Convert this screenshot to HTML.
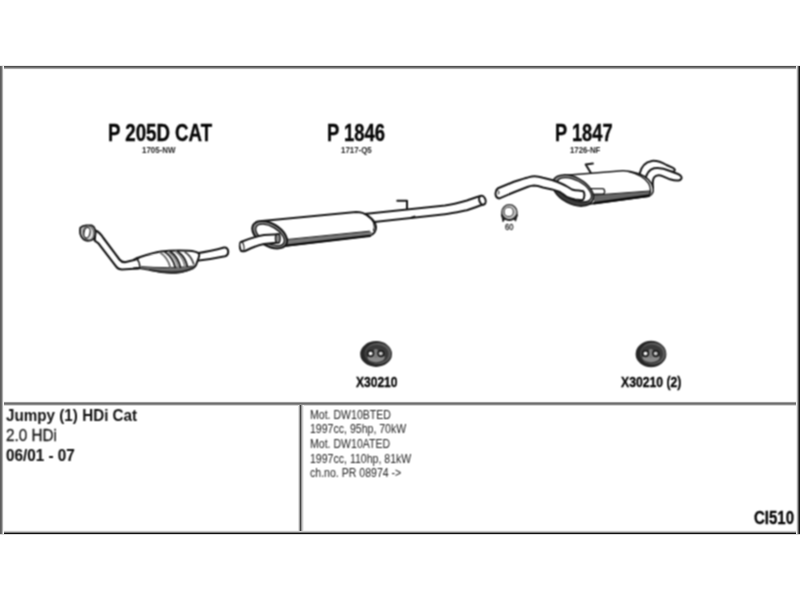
<!DOCTYPE html>
<html><head><meta charset="utf-8"><style>
html,body{margin:0;padding:0;background:#fff;}
body{width:800px;height:600px;position:relative;overflow:hidden;font-family:"Liberation Sans",sans-serif;color:#141414;}
.l{position:absolute;background:#333;}
.t{position:absolute;white-space:nowrap;line-height:1;transform-origin:0 0;}
.b{font-weight:bold;color:#050505;-webkit-text-stroke:0.35px #050505;}
.s{-webkit-text-stroke:0;color:#222;}
svg{position:absolute;left:0;top:0;}
#w{position:absolute;left:0;top:0;width:800px;height:600px;background:#fff;filter:url(#soft) grayscale(1);}
</style></head><body><svg width="0" height="0" style="position:absolute"><filter id="soft" x="0" y="0" width="100%" height="100%" color-interpolation-filters="sRGB"><feConvolveMatrix order="3" kernelMatrix="1 2 1 2 4 2 1 2 1" divisor="16" edgeMode="duplicate"/></filter></svg><div id="w">
<!-- labels -->
<div class="t b" style="left:107.6px;top:122px;font-size:23.6px;transform:scaleX(0.791)">P 205D CAT</div>
<div class="t b s" style="left:142.4px;top:144.9px;font-size:9.6px;transform:scaleX(0.825)">1705-NW</div>
<div class="t b" style="left:326.7px;top:122px;font-size:23.6px;transform:scaleX(0.781)">P 1846</div>
<div class="t b s" style="left:341.4px;top:144.9px;font-size:9.6px;transform:scaleX(0.821)">1717-Q5</div>
<div class="t b" style="left:555.2px;top:122px;font-size:23.6px;transform:scaleX(0.774)">P 1847</div>
<div class="t b s" style="left:570px;top:144.9px;font-size:9.6px;transform:scaleX(0.814)">1726-NF</div>
<div class="t b" style="left:355.7px;top:375.2px;font-size:14.8px;transform:scaleX(0.813)">X30210</div>
<div class="t b" style="left:620.6px;top:375px;font-size:14.8px;transform:scaleX(0.824)">X30210 (2)</div>

<div class="t b" style="left:6.3px;top:406.8px;font-size:17.3px;transform:scaleX(0.881);-webkit-text-stroke:0;color:#111">Jumpy (1) HDi Cat</div>
<div class="t" style="left:5.6px;top:427px;font-size:17.3px;transform:scaleX(0.884);color:#1a1a1a;-webkit-text-stroke:0.3px #1a1a1a">2.0 HDi</div>
<div class="t b" style="left:5.6px;top:446.6px;font-size:17.3px;transform:scaleX(0.883);-webkit-text-stroke:0.15px #111;color:#111">06/01 - 07</div>

<div class="t" style="left:310px;top:407.6px;font-size:12.2px;transform:scaleX(0.866);color:#222;line-height:14.7px">Mot. DW10BTED<br>1997cc, 95hp, 70kW<br>Mot. DW10ATED<br>1997cc, 110hp, 81kW<br>ch.no. PR 08974 -&gt;</div>

<div class="t b" style="left:753.5px;top:508.1px;font-size:19.2px;transform:scaleX(0.782)">CI510</div>

<div class="t" style="left:505px;top:222.7px;font-size:8.6px;transform:scaleX(0.88);color:#222;-webkit-text-stroke:0.3px #222">60</div>
<!-- drawing -->
<svg width="800" height="600" viewBox="0 0 800 600" fill="none" stroke="#141414" stroke-width="2.1" stroke-linecap="round" stroke-linejoin="round">
<!-- ===== P 205D CAT ===== -->
<g id="cat">
 <!-- front pipe -->
 <path d="M95.5,230.5 C99.5,232 101.5,235 103.4,238 L119.5,259.5 C121.5,262 123.5,262.5 126,262 L138,259 L138,268.5 L122,269.5 C119,269.5 117.5,268.5 116.2,266.7 L98.8,243.8 C97.5,242.5 96,241.5 94.7,240.6 Z" fill="#fff"/>
 <!-- flange -->
 <path d="M80.3,227.6 C82,226 84,225.4 86.2,225.3 L91.7,225.4 C93.5,226 94.6,227.5 95.1,229.5 C95.6,231.5 95.6,233.5 95.3,235 C95,237 94.5,238.3 93.2,239.4 C91.5,240.5 89.8,240.9 88,240.9 C86.3,240.8 84.8,240.3 83.4,239.3 C81.8,238 80.6,236 80.1,233.6 C79.8,231.3 79.8,229.3 80.3,227.6 Z" fill="#b8b8b8" stroke-width="1.7"/>
 <ellipse cx="88.6" cy="233" rx="5.2" ry="7" transform="rotate(-8 88.6 233)" fill="#dedede" stroke-width="1" stroke="#555"/>
 <ellipse cx="87" cy="232.7" rx="3" ry="5.3" transform="rotate(12 87 232.7)" fill="#fff" stroke-width="1.1"/>
 <!-- outlet pipe -->
 <path d="M196,253.5 C206,252 214,250.5 224,247.6 C226.5,247 228.2,249 228.2,251.5 C228.2,254 227,255.8 225,256.3 C217,258 209,259.5 197,260.8 Z" fill="#fff"/>
 <!-- converter body -->
 <path d="M136.4,258.2 C145,255.5 152,253 160.9,251.6 C168,250.6 176,250.2 188.9,250.7 C194,251 197,252 198.8,253.4 C199.6,254.6 199.2,256.5 198.4,258.5 L196.2,264.7 C195.5,266.5 194.5,267.5 193.2,268.2 C188,270.5 184,271.8 180.1,272.2 C175,272.8 171,272.8 167,272.6 C162,272.3 158,271.5 153.9,270.5 L140.7,268.2 L136.4,268 Z" fill="#fff" stroke="none"/>
 <path d="M136.4,258.2 C145,255.5 152,253 160.9,251.6 C168,250.6 176,250.2 188.9,250.7 C194,251 197,252 198.8,253.4 C199.6,254.6 199.2,256.5 198.4,258.5 L196.2,264.7 C195.5,266.5 194.5,267.5 193.2,268.2 C188,270.5 184,271.8 180.1,272.2 C175,272.8 171,272.8 167,272.6 C162,272.3 158,271.5 153.9,270.5 L140.7,268.2 L136.4,268" fill="none" stroke-width="2"/>
 <path d="M141.5,266.8 C158,268.2 176,268.2 194.5,266.2 L193.2,268.2 C188,270.5 184,271.8 180.1,272.2 C175,272.8 171,272.8 167,272.6 C162,272.3 158,271.5 153.9,270.5 L140.7,268.2 Z" fill="#6e6e6e" stroke="none"/>
 <path d="M150,270 C160,272 172,273 182,271.6 C187,270.8 190,269.5 193,268" stroke-width="2.2" stroke="#2a2a2a"/>
 <path d="M141.5,266.6 C158,268 176,268 194.5,266" stroke-width="0.9"/>
 <path d="M136.9,258.8 C138.8,261 139.8,263.5 139.8,267.2" stroke-width="1.4"/>
 <path d="M134,259.4 L138.5,258.3 M134,268.3 L139,268.2" stroke-width="2"/>
 <!-- stripes -->
 <g stroke-width="1.7">
  <path d="M160,252.6 C164.5,255.5 168.5,260.5 170.2,267.2" stroke="#6a6a6a" stroke-width="1.8"/>
  <path d="M165.2,252.3 C170,255.5 173.6,260.5 175.2,267.3" stroke="#222" stroke-width="1.9"/>
  <path d="M168.6,252 C173.4,255.2 176.6,260.5 178.2,267.2" stroke="#8a8a8a" stroke-width="2"/>
  <path d="M170.6,251.8 C175.6,255.2 178.8,260.5 180.4,267.1"/>
  <path d="M175.8,251.6 C180.6,255 183.6,259.8 185,266.2" stroke="#8a8a8a" stroke-width="2"/>
  <path d="M178,251.6 C182.8,255 185.8,259.8 187.2,265.8"/>
  <path d="M185.2,252.2 C189.4,255 192,259 193.6,263.8" stroke="#444" stroke-width="1.8"/>
 </g>
</g>

<!-- ===== P 1846 ===== -->
<g id="mid">
 <!-- outlet pipe -->
 <path d="M362,214.2 L445,205.5 C452,204.6 460,202.5 466.9,200.5 C471,199.2 476,197.2 480.5,196 L483,204.4 C476,207 471,208.9 466.9,210.2 C460,211.6 452,213.4 445,214.25 L372,222.3 Z" fill="#fff"/>
 <ellipse cx="482.4" cy="200.2" rx="3.1" ry="4.6" transform="rotate(-18 482.4 200.2)" fill="#fff" stroke-width="2"/>
 <path d="M397.25,200.75 L407,200.75 L407,209" stroke-width="2"/>
 <path d="M411.5,217.8 L414.5,216.6" stroke-width="2"/>
 <!-- body -->
 <path d="M262,221 L356,212 C361,212 365,213.5 367.5,215.6 C372,219 376,222 376,227 C376,231 374,234 370,235.6 L282,246 Z" fill="#fff" stroke-width="2"/>
 <path d="M284,240 L370,231.3 C372.5,232.3 372.5,235 370,235.8 L284,245.8 Z" fill="#787878" stroke="none"/>
 <path d="M284,239.8 L369.5,231.2" stroke-width="1"/>
 <path d="M284,245.8 L370,235.9" stroke-width="2.2" stroke="#0a0a0a"/>
 <path d="M364.5,213.6 C369,215.5 372,219 373.5,222.5 C374.5,225 374.5,228 373.5,230.5" stroke-width="1.2"/>
 <!-- end cap ring -->
 <ellipse cx="269.7" cy="234.7" rx="19.2" ry="11.2" transform="rotate(31 269.7 234.7)" fill="#8a8a8a" stroke-width="2"/>
 <ellipse cx="270" cy="234.9" rx="15.9" ry="8.2" transform="rotate(31 270 234.9)" fill="#fff" stroke-width="1.3"/>
 <!-- inlet pipe -->
 <path d="M279,234.2 L264,235 C258,236 254,237 240.8,242 C239.5,243.5 239.5,249 241,250.8 C242.5,251.5 244,251.3 245,251 C252,247.5 258,245 264,244.1 L279,242.6 Z" fill="#fff" stroke-width="2"/>
 <ellipse cx="242" cy="246.5" rx="1.9" ry="4.4" transform="rotate(-10 242 246.5)" fill="#fff" stroke-width="1.1"/>
 <ellipse cx="277.8" cy="238.4" rx="2.4" ry="4.4" fill="#888" stroke-width="1.3"/>
</g>

<!-- ===== clamp ===== -->
<g id="clamp">
 <path d="M501.4,214.5 L503,221.8 L505.6,217.8 Z M513.2,217.6 L515.6,221.2 L517.4,214.8 Z" fill="#1a1a1a" stroke-width="0.8"/>
 <circle cx="509.4" cy="212.4" r="7.7" fill="#c4c4c4" stroke-width="1.3" stroke="#333"/>
 <path d="M502.2,215.8 C504,218.6 506.6,219.9 509.4,219.9 C512.2,219.9 514.8,218.6 516.6,215.8" stroke="#222" stroke-width="2"/>
 <circle cx="508.7" cy="211.9" r="4.6" fill="#fff" stroke-width="1.1" stroke="#444"/>
</g>

<!-- ===== P 1847 ===== -->
<g id="rear">
 <!-- tailpipe 1 -->
 <path d="M639.5,174 C641,167 645,162 651.9,160.9 C657,160.5 662,162.4 666.5,165 L672.5,167.6 C675,168.8 675.8,170.6 673.6,171.6 L660,172 L646,178 Z" fill="#fff" stroke-width="2"/>
 <!-- tailpipe 2 -->
 <path d="M645.6,179 C646.5,174 649.5,169.6 654,168.3 C660,167.3 665,168.8 670,171 L678,174 C681.5,175.5 682.8,178 680.2,180 C677.5,181.2 674,180.6 670,179.3 L663,176.3 C659,174.6 656,174.8 654,177.5 C652.8,179.5 652.4,182.5 653,188 Z" fill="#fff" stroke-width="2"/>
 <!-- body -->
 <path d="M566,175.2 L622.5,170.8 C628,170.6 633,171.8 638,173.5 C645.5,176.3 651.5,181 653,187.5 C653.8,192 652.5,195 649,196.2 L590,204 L572,196 Z" fill="#fff" stroke-width="1.5"/>
 <path d="M594,195.2 L650.5,191 C652.5,192.5 651.5,195.3 648.8,196.1 L594,203.6 Z" fill="#666" stroke="none"/>
 <path d="M594,195.1 L649.5,191" stroke-width="1"/>
 <path d="M594,203.2 L648.5,195.7" stroke-width="2.4" stroke="#0a0a0a"/>
 <path d="M628,171.4 C637,173.6 645,178 648.8,183.6 C650.8,187.5 650.9,192 649,195.8" stroke-width="1.3"/>
 <!-- small tab -->
 <path d="M590,188.6 L602.5,188.6 C605,188.6 605.5,193.8 603,194 L590,194.3 Z" fill="#fff" stroke-width="1.3"/>
 <!-- end cap -->
 <g transform="translate(572.9 190.5) rotate(28)">
  <ellipse cx="0" cy="0" rx="22.2" ry="13.2" fill="url(#capg)" stroke-width="1.5"/>
  <ellipse cx="0.8" cy="-1.3" rx="18.8" ry="9.5" fill="#fff" stroke-width="1.2"/>
 </g>
 <!-- inlet pipe -->
 <path d="M498,188.25 L514.5,181.5 C519,180 524,178.3 528,177.4 C530.5,176.7 532.5,176.2 534.75,176.25 C538,176.4 540.5,177 543,177.75 L552,180 C555,181 558,182 560,183 C563,184.3 565.5,185.5 567.5,186.75 L572,189.5 C574,190.3 576.5,190.5 578.75,190.5 L583.25,191.25 C585,193 584.8,198.5 582.5,200.25 L575,199.5 C572,198.8 570,198.2 567.5,197.25 C564.5,195.5 562.5,193.5 560,192 L552,189.4 L543,187.5 C540,186.6 537,185.8 534,185.6 C532,185.7 530,186.1 528,186.75 L514.5,192 L499.5,198.4 C496.5,198 495.3,195.5 495.6,192.8 C495.9,190.6 496.6,189 498,188.25 Z" fill="#fff" stroke-width="2"/>
 <path d="M497.5,190 C499,191 499.5,192.5 498.6,194" stroke-width="1"/>
 <!-- hanger -->
 <path d="M592.9,163.6 L585.7,164.4 L590.6,172.6" stroke-width="2"/>
</g>

<!-- ===== rubber rings ===== -->
<defs>
 <linearGradient id="capg" x1="0" y1="0" x2="0" y2="1" gradientUnits="objectBoundingBox"><stop offset="0" stop-color="#9a9a9a"/><stop offset="0.5" stop-color="#888"/><stop offset="0.62" stop-color="#3e3e3e"/><stop offset="1" stop-color="#383838"/></linearGradient>
 <radialGradient id="hole" cx="0.45" cy="0.45" r="0.6"><stop offset="0" stop-color="#fff"/><stop offset="0.55" stop-color="#e8e8e8"/><stop offset="1" stop-color="#555"/></radialGradient>
</defs>
<g stroke="none" transform="translate(376.1 354)">
 <ellipse cx="0" cy="0" rx="15.9" ry="12.9" fill="#262626"/>
 <ellipse cx="1.8" cy="-0.4" rx="13.3" ry="10.5" fill="#5a5a5a"/>
 <ellipse cx="0.6" cy="0" rx="11.7" ry="9.3" fill="#3a3a3a"/>
 <ellipse cx="0" cy="3.6" rx="8.6" ry="4.6" fill="#8a8a8a"/>
 <rect x="-2" y="-5" width="3.6" height="9" rx="1.2" fill="#7a7a7a"/>
 <circle cx="-5.4" cy="-0.4" r="3.6" fill="#1a1a1a"/>
 <circle cx="4.8" cy="-0.4" r="3.6" fill="#1a1a1a"/>
 <circle cx="-5.4" cy="-0.4" r="2.2" fill="url(#hole)"/>
 <circle cx="4.8" cy="-0.4" r="2.2" fill="url(#hole)" opacity="0.8"/>
</g>
<g stroke="none" transform="translate(651 354)">
 <ellipse cx="0" cy="0" rx="15.4" ry="13.2" fill="#262626"/>
 <ellipse cx="1.8" cy="-0.4" rx="12.8" ry="10.799999999999999" fill="#5a5a5a"/>
 <ellipse cx="0.6" cy="0" rx="11.2" ry="9.6" fill="#3a3a3a"/>
 <ellipse cx="0" cy="3.6" rx="8.6" ry="4.6" fill="#8a8a8a"/>
 <rect x="-2" y="-5" width="3.6" height="9" rx="1.2" fill="#7a7a7a"/>
 <circle cx="-5.4" cy="-0.4" r="3.6" fill="#1a1a1a"/>
 <circle cx="4.8" cy="-0.4" r="3.6" fill="#1a1a1a"/>
 <circle cx="-5.4" cy="-0.4" r="2.2" fill="url(#hole)"/>
 <circle cx="4.8" cy="-0.4" r="2.2" fill="url(#hole)" opacity="0.8"/>
</g>
</svg>
</div>
<!-- frame (crisp, matched to target profile) -->
<div class="l" style="left:0px;top:65px;width:800px;height:1px;background:#ebebeb"></div>
<div class="l" style="left:0px;top:66px;width:800px;height:1px;background:#4e4e4e"></div>
<div class="l" style="left:0px;top:67px;width:800px;height:1px;background:#737373"></div>
<div class="l" style="left:0px;top:68px;width:800px;height:1px;background:#aaaaaa"></div>
<div class="l" style="left:0px;top:69px;width:800px;height:1px;background:#f6f6f6"></div>
<div class="l" style="left:0px;top:530px;width:800px;height:1px;background:#f5f5f5"></div>
<div class="l" style="left:0px;top:531px;width:800px;height:1px;background:#c8c8c8"></div>
<div class="l" style="left:0px;top:532px;width:800px;height:1px;background:#787878"></div>
<div class="l" style="left:0px;top:533px;width:800px;height:1px;background:#0f0f0f"></div>
<div class="l" style="left:0px;top:534px;width:800px;height:1px;background:#d8d8d8"></div>
<div class="l" style="left:3px;top:401px;width:793px;height:1px;background:#f3f3f3"></div>
<div class="l" style="left:3px;top:402px;width:793px;height:1px;background:#9b9b9b"></div>
<div class="l" style="left:3px;top:403px;width:793px;height:1px;background:#6c6c6c"></div>
<div class="l" style="left:3px;top:404px;width:793px;height:1px;background:#8a8a8a"></div>
<div class="l" style="left:3px;top:405px;width:793px;height:1px;background:#d5d5d5"></div>
<div class="l" style="left:298px;top:405px;width:1px;height:126px;background:#e1e1e1"></div>
<div class="l" style="left:299px;top:405px;width:1px;height:126px;background:#a0a0a0"></div>
<div class="l" style="left:300px;top:405px;width:1px;height:126px;background:#444444"></div>
<div class="l" style="left:301px;top:405px;width:1px;height:126px;background:#969696"></div>
<div class="l" style="left:302px;top:405px;width:1px;height:126px;background:#cdcdcd"></div>
<div class="l" style="left:303px;top:405px;width:1px;height:126px;background:#eeeeee"></div>
<div class="l" style="left:0px;top:66px;width:1px;height:468px;background:#5c5c5c"></div>
<div class="l" style="left:1px;top:66px;width:1px;height:468px;background:#707070"></div>
<div class="l" style="left:2px;top:66px;width:1px;height:468px;background:#b0b0b0"></div>
<div class="l" style="left:3px;top:66px;width:1px;height:468px;background:#f6f6f6"></div>
<div class="l" style="left:796px;top:66px;width:1px;height:468px;background:#ebebeb"></div>
<div class="l" style="left:797px;top:66px;width:1px;height:468px;background:#aaaaaa"></div>
<div class="l" style="left:798px;top:66px;width:1px;height:468px;background:#555555"></div>
<div class="l" style="left:799px;top:66px;width:1px;height:468px;background:#141414"></div>
</body></html>
